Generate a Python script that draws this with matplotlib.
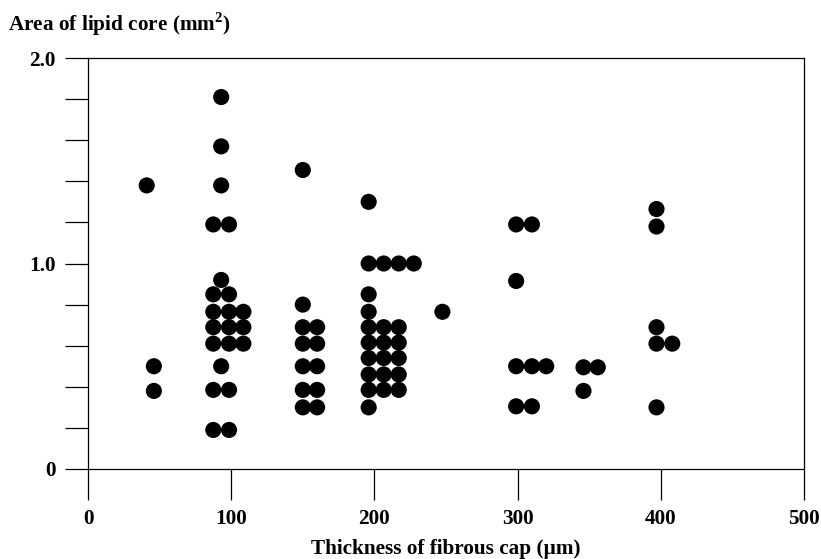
import matplotlib.pyplot as plt

plt.rcParams['font.family'] = ['Liberation Serif', 'DejaVu Serif']
plt.rcParams['font.weight'] = 'bold'
plt.rcParams['mathtext.fontset'] = 'custom'
plt.rcParams['mathtext.rm'] = 'Liberation Serif:bold'
plt.rcParams['mathtext.bf'] = 'Liberation Serif:bold'

# thickness of fibrous cap (um)
thick = [41, 46, 46,
         93, 93, 93, 87.5, 98.5, 93, 87.5, 98.5,
         87.5, 98.5, 108.5, 87.5, 98.5, 108.5, 87.5, 98.5, 108.5,
         93, 87.5, 98.5, 87.5, 98.5,
         150, 150, 150, 160, 150, 160, 150, 160, 150, 160, 150, 160,
         196, 196, 206.5, 217, 227.5, 196, 196,
         196, 206.5, 217, 196, 206.5, 217, 196, 206.5, 217,
         196, 206.5, 217, 196, 206.5, 217, 196,
         247.5,
         299, 310, 299, 299, 310, 320, 299, 310,
         346, 356, 346,
         397, 397, 397, 397, 408, 397]

# area of lipid core (mm2)
area = [1.38, 0.50, 0.38,
        1.81, 1.57, 1.38, 1.19, 1.19, 0.92, 0.85, 0.85,
        0.765, 0.765, 0.765, 0.69, 0.69, 0.69, 0.61, 0.61, 0.61,
        0.50, 0.385, 0.385, 0.19, 0.19,
        1.455, 0.80, 0.69, 0.69, 0.61, 0.61, 0.50, 0.50, 0.385, 0.385, 0.30, 0.30,
        1.30, 1.0, 1.0, 1.0, 1.0, 0.85, 0.765,
        0.69, 0.69, 0.69, 0.615, 0.615, 0.615, 0.54, 0.54, 0.54,
        0.46, 0.46, 0.46, 0.385, 0.385, 0.385, 0.30,
        0.765,
        1.19, 1.19, 0.915, 0.50, 0.50, 0.50, 0.305, 0.305,
        0.495, 0.495, 0.38,
        1.265, 1.18, 0.69, 0.61, 0.61, 0.30]

xticks = [0, 100, 200, 300, 400, 500]
yticks = [0, 0.2, 0.4, 0.6, 0.8, 1.0, 1.2, 1.4, 1.6, 1.8, 2.0]
ylabels = ['0', '', '', '', '', '1.0', '', '', '', '', '2.0']

fs = 15.3

fig = plt.figure(figsize=(8.21, 5.59), dpi=100)
ax = fig.add_axes([88 / 821, 1 - 469 / 559, (804 - 88) / 821, (469 - 58) / 559])

ax.scatter(thick, area, s=135, c='black', edgecolors='none', zorder=3, clip_on=False)

ax.set_xlim(0, 500)
ax.set_ylim(0, 2.0)
ax.set_xticks(xticks)
ax.set_xticklabels([str(t) for t in xticks], fontsize=fs, fontweight='bold')
ax.set_yticks(yticks)
ax.set_yticklabels(ylabels, fontsize=fs, fontweight='bold')
ax.tick_params(axis='x', direction='out', length=22, width=0.9, pad=7)
ax.tick_params(axis='y', direction='out', length=16.5, width=0.9, pad=7)
for sp in ax.spines.values():
    sp.set_linewidth(0.9)

ax.set_xlabel('Thickness of fibrous cap (µm)', fontsize=fs, fontweight='bold', labelpad=7)
fig.text(8 / 821, 1 - 31 / 559, r'Area of lipid core (mm$^{\mathbf{2}}$)', fontsize=fs,
         fontweight='bold', ha='left', va='baseline')

fig.savefig('out.png', dpi=100)
